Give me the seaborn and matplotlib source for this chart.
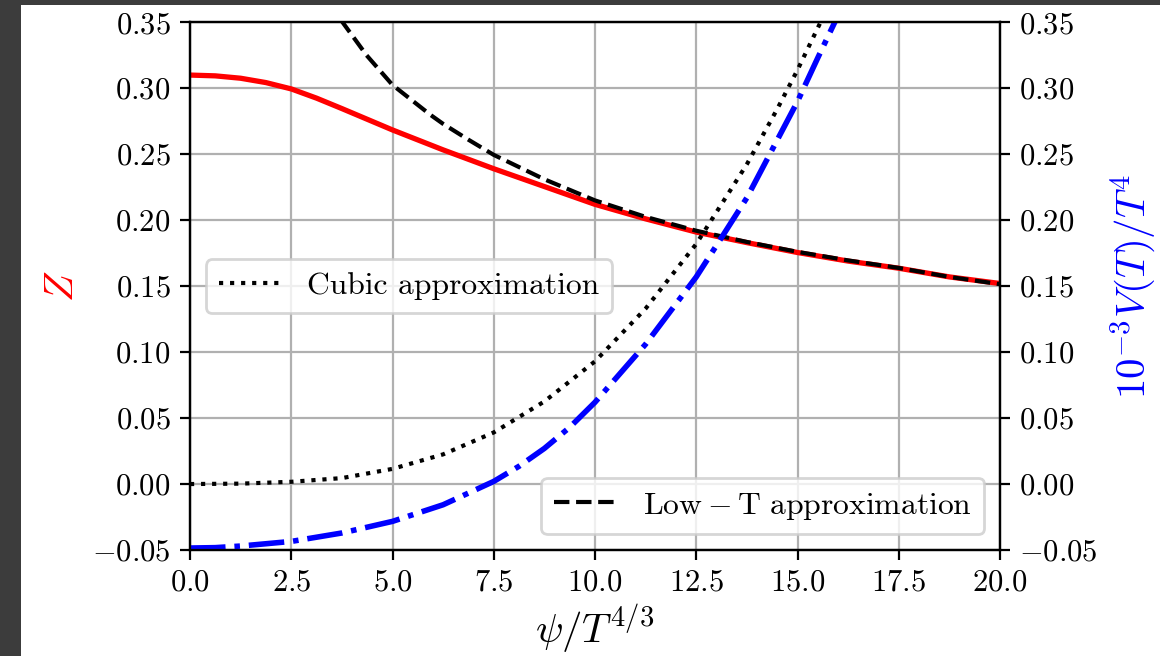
import numpy as np
import seaborn as sns
import matplotlib.pyplot as plt
from matplotlib.patches import Rectangle
from matplotlib.ticker import FuncFormatter

# values
psi_z = [0, 0.625, 1.25, 1.875, 2.5, 3.125, 3.75, 5, 6.25, 7.5, 8.75, 10, 11.25, 12.5, 13.75, 15,
         16.25, 17.5, 18.75, 20]
z_vals = [0.310, 0.3094, 0.3076, 0.3043, 0.2995, 0.2925, 0.2846, 0.2684, 0.2533, 0.239, 0.2255,
          0.212, 0.201, 0.191, 0.183, 0.1755, 0.169, 0.1636, 0.157, 0.152]

psi_lowt = [3.72, 4.36, 5, 5.93, 6.25, 6.875, 7.5, 8.75, 10, 11.25, 12.5, 13.75, 15, 16.25, 17.5,
            18.75, 20]
lowt_vals = [0.352, 0.325, 0.3025, 0.280, 0.273, 0.261, 0.2495, 0.231, 0.215, 0.2025, 0.192,
             0.1835, 0.176, 0.1695, 0.1638, 0.157, 0.1515]

psi_cubic = [0, 1.25, 2.5, 3.75, 5, 6.25, 7.5, 8.75, 10, 11.25, 12.5, 13.75, 14.5, 15, 15.5, 15.6]
cubic_vals = [0.0, 0.0003, 0.0017, 0.0045, 0.0115, 0.0225, 0.0391, 0.0626, 0.093, 0.133,
              0.182, 0.2424, 0.2843, 0.3139, 0.3457, 0.352]

psi_v = [0, 0.625, 1.25, 2.5, 3.75, 5, 6.25, 7.5, 8.125, 8.75, 9.375, 10, 11.25, 12.5, 13.17,
         13.75, 15, 15.5, 15.95]
v_vals = [-0.0485, -0.0482, -0.047, -0.0435, -0.0371, -0.0283, -0.0157, 0.002, 0.0135, 0.027,
          0.043, 0.062, 0.106, 0.157, 0.189, 0.217, 0.290, 0.323, 0.352]

x_ticks = [0, 2.5, 5, 7.5, 10, 12.5, 15, 17.5, 20]
y_ticks = [-0.05, 0.0, 0.05, 0.10, 0.15, 0.20, 0.25, 0.30, 0.35]

sns.set_style("ticks", {"axes.edgecolor": "black", "xtick.color": "black", "ytick.color": "black",
                        "text.color": "black", "axes.labelcolor": "black"})
plt.rcParams["font.family"] = ["cmr10", "DejaVu Serif"]
plt.rcParams["mathtext.fontset"] = "cm"
plt.rcParams["axes.unicode_minus"] = False

W, H = 1160, 656
fig = plt.figure(figsize=(W / 200, H / 200), dpi=200)
fig.patch.set_facecolor("#3c3c3c")
fig.add_artist(Rectangle((21 / W, 0), 1 - 21 / W, 1 - 5 / H, transform=fig.transFigure,
                         facecolor="white", edgecolor="none", zorder=0))

ax = fig.add_axes([190 / W, 1 - 550 / H, 810 / W, (550 - 22.3) / H])
ax2 = ax.twinx()

sns.lineplot(x=psi_z, y=z_vals, ax=ax, color="red", lw=1.9)
sns.lineplot(x=psi_lowt, y=lowt_vals, ax=ax, color="black", lw=1.5, linestyle="--")
sns.lineplot(x=psi_cubic, y=cubic_vals, ax=ax, color="black", lw=1.5, linestyle=":")
sns.lineplot(x=psi_v, y=v_vals, ax=ax2, color="blue", lw=2.0, linestyle="-.")

z_line, lowt_line, cubic_line = ax.lines[0], ax.lines[1], ax.lines[2]

fmt = FuncFormatter(lambda v, pos: f"${v:.2f}$")
for a in (ax, ax2):
    a.set_xlim(0, 20)
    a.set_ylim(-0.05, 0.35)
    a.set_yticks(y_ticks)
    a.yaxis.set_major_formatter(fmt)
    a.tick_params(labelsize=11, length=3.5, width=0.8)
ax.set_xticks(x_ticks)
ax.xaxis.set_major_formatter(FuncFormatter(lambda v, pos: f"${v:.1f}$"))
ax.grid(True, color="#b0b0b0", lw=0.8)

ax.set_xlabel(r"$\psi/T^{4/3}$", fontsize=14.7, labelpad=2)
ax.set_ylabel(r"$Z$", fontsize=14.7, color="red")
ax2.set_ylabel(r"$10^{-3}V(T)/T^4$", fontsize=14.7, color="blue")

leg1 = ax2.legend([cubic_line], ["Cubic approximation"], loc="center left", fontsize=11.4)
ax2.add_artist(leg1)
ax2.legend([lowt_line], [r"$\mathrm{Low-T\ approximation}$"], loc="lower right", fontsize=11.4)

plt.savefig("out.png", dpi=200, facecolor=fig.get_facecolor())
